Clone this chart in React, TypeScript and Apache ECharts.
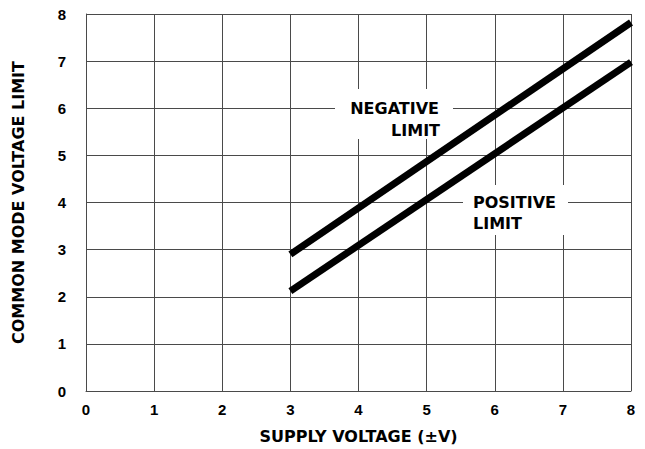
import React, { useEffect, useRef } from "react";
import * as echarts from "echarts";

const xTicks = [0, 1, 2, 3, 4, 5, 6, 7, 8];
const yTicks = [0, 1, 2, 3, 4, 5, 6, 7, 8];
const negativeLimit: [number, number][] = [
  [3.0, 2.9],
  [8.0, 7.82],
];
const positiveLimit: [number, number][] = [
  [3.0, 2.12],
  [8.0, 6.98],
];
const xName = "SUPPLY VOLTAGE (±V)";
const yName = "COMMON MODE VOLTAGE LIMIT";
const negLabel = ["NEGATIVE", "LIMIT"];
const posLabel = ["POSITIVE", "LIMIT"];

const LABEL_FONT = "'DejaVu Sans', sans-serif";
const TICK_FONT = "'Liberation Sans', Arial, sans-serif";

export default function App() {
  const ref = useRef<HTMLDivElement>(null);
  useEffect(() => {
    document.body.style.margin = "0";
    if (!ref.current) return;
    const chart = echarts.init(ref.current, undefined, { renderer: "svg" });
    const gridColor = "#4a4a4a";
    const axisCommon = {
      type: "value" as const,
      interval: 1,
      nameLocation: "middle" as const,
      axisLine: { show: true, lineStyle: { color: gridColor, width: 1 } },
      axisTick: { show: false },
      splitLine: { show: true, lineStyle: { color: gridColor, width: 1 } },
      axisLabel: {
        color: "#000",
        fontFamily: TICK_FONT,
        fontWeight: "bold" as const,
        fontSize: 15,
      },
      nameTextStyle: {
        color: "#000",
        fontFamily: LABEL_FONT,
        fontWeight: "bold" as const,
        fontSize: 16,
      },
    };
    const textStyle = (align: string) => ({
      fill: "#000",
      font: `bold 16px ${LABEL_FONT}`,
      textAlign: align,
      textVerticalAlign: "middle",
    });
    chart.setOption({
      animation: false,
      backgroundColor: "#fff",
      grid: {
        left: 86,
        right: 14,
        top: 14,
        bottom: 58,
        containLabel: false,
        outerBoundsMode: "none",
      },
      xAxis: {
        ...axisCommon,
        min: xTicks[0],
        max: xTicks[xTicks.length - 1],
        name: xName,
        nameGap: 37,
        axisLabel: { ...axisCommon.axisLabel, margin: 11 },
      },
      yAxis: {
        ...axisCommon,
        min: yTicks[0],
        max: yTicks[yTicks.length - 1],
        name: yName,
        nameGap: 60,
        axisLabel: { ...axisCommon.axisLabel, margin: 20 },
      },
      series: [
        {
          type: "line",
          data: negativeLimit,
          symbol: "none",
          z: 10,
          lineStyle: { color: "#000", width: 7, cap: "butt" },
        },
        {
          type: "line",
          data: positiveLimit,
          symbol: "none",
          z: 10,
          lineStyle: { color: "#000", width: 7, cap: "butt" },
        },
      ],
      graphic: [
        {
          type: "rect",
          z: 5,
          shape: { x: 335, y: 89, width: 118, height: 50 },
          style: { fill: "#fff" },
        },
        { type: "text", z: 6, x: 439, y: 108, style: { ...textStyle("right"), text: negLabel[0] } },
        { type: "text", z: 6, x: 440, y: 130, style: { ...textStyle("right"), text: negLabel[1] } },
        {
          type: "rect",
          z: 5,
          shape: { x: 463, y: 185, width: 105, height: 50 },
          style: { fill: "#fff" },
        },
        { type: "text", z: 6, x: 473, y: 202, style: { ...textStyle("left"), text: posLabel[0] } },
        { type: "text", z: 6, x: 473, y: 223, style: { ...textStyle("left"), text: posLabel[1] } },
      ],
    });
    return () => chart.dispose();
  }, []);
  return <div ref={ref} style={{ width: 645, height: 449 }} />;
}
